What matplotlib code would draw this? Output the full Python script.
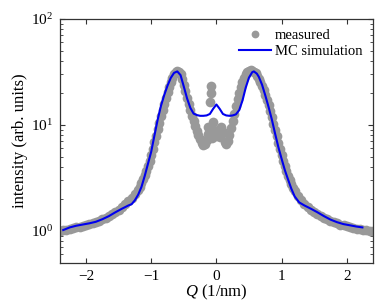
import matplotlib
matplotlib.use("Agg")
import matplotlib.pyplot as plt

plt.rcParams['font.family'] = ['Liberation Serif', 'DejaVu Serif']
plt.rcParams['mathtext.fontset'] = 'custom'
plt.rcParams['mathtext.rm'] = 'Liberation Serif'
plt.rcParams['mathtext.it'] = 'Liberation Serif:italic'
plt.rcParams['axes.unicode_minus'] = True

# measured data (Q in 1/nm, intensity)
q_meas = [-2.40, -2.35, -2.30, -2.25, -2.20, -2.15, -2.10, -2.05, -2.00, -1.95,
          -1.90, -1.85, -1.80, -1.75, -1.70, -1.65, -1.60, -1.55, -1.50, -1.45,
          -1.40, -1.35, -1.30, -1.25,
          -1.200, -1.175, -1.150, -1.125, -1.100, -1.075, -1.050, -1.025, -1.000, -0.975,
          -0.950, -0.925, -0.900, -0.875, -0.850, -0.825, -0.800, -0.775, -0.750, -0.725,
          -0.700, -0.675, -0.650, -0.625, -0.600, -0.575, -0.550, -0.525, -0.500, -0.475,
          -0.450, -0.425, -0.400, -0.375, -0.350, -0.325, -0.300, -0.275, -0.250, -0.225,
          -0.200, -0.175, -0.150,
          -0.130, -0.130, -0.110, -0.100, -0.077, -0.077, -0.070, -0.050, -0.030, 0.000,
          0.025, 0.050, 0.075, 0.100,
          0.125, 0.150, 0.175, 0.200, 0.225, 0.250, 0.275, 0.300, 0.325, 0.350,
          0.375, 0.400, 0.425, 0.450, 0.475, 0.500, 0.525, 0.550, 0.575, 0.600,
          0.625, 0.650, 0.675, 0.700, 0.725, 0.750, 0.775, 0.800, 0.825, 0.850,
          0.875, 0.900, 0.925, 0.950, 0.975, 1.000, 1.025, 1.050, 1.075, 1.100,
          1.125, 1.150, 1.175, 1.200,
          1.25, 1.30, 1.35, 1.40, 1.45, 1.50, 1.55, 1.60, 1.65, 1.70,
          1.75, 1.80, 1.85, 1.90, 1.95, 2.00, 2.05, 2.10, 2.15, 2.20,
          2.25, 2.30, 2.35, 2.40]
i_meas = [1.00, 1.01, 1.03, 1.04, 1.06, 1.08, 1.10, 1.12, 1.14, 1.16,
          1.19, 1.22, 1.25, 1.29, 1.33, 1.38, 1.44, 1.51, 1.58, 1.67,
          1.78, 1.90, 2.04, 2.22,
          2.45, 2.62, 2.82, 3.06, 3.35, 3.70, 4.10, 4.60, 5.20, 5.95,
          6.85, 7.90, 9.10, 10.5, 12.1, 13.9, 15.9, 18.0, 20.3, 22.8,
          25.3, 27.8, 30.0, 31.6, 32.3, 31.8, 30.0, 27.2, 24.0, 20.8,
          18.0, 15.6, 13.7, 12.1, 10.8, 9.70, 8.80, 8.00, 7.30, 6.80,
          6.50, 6.60, 7.20,
          8.2, 9.5, 8.0, 16.4, 20.0, 23.2, 7.5, 10.6, 8.9, 7.8,
          8.55, 7.7, 9.5, 8.55,
          6.9, 6.6, 7.0, 8.0, 9.3, 10.9, 12.8, 15.0, 17.4, 20.0,
          22.8, 25.5, 28.0, 30.0, 31.5, 32.4, 32.8, 32.6, 31.8, 30.6,
          29.0, 27.2, 25.3, 23.3, 21.3, 19.3, 17.3, 15.5, 13.5, 11.8,
          10.2, 8.9, 7.8, 6.8, 5.9, 5.2, 4.6, 4.1, 3.65, 3.30,
          3.00, 2.75, 2.55, 2.38,
          2.12, 1.94, 1.80, 1.69, 1.59, 1.51, 1.44, 1.38, 1.33, 1.29,
          1.25, 1.21, 1.18, 1.15, 1.13, 1.11, 1.09, 1.07, 1.05, 1.04,
          1.02, 1.01, 1.00, 0.99]

# MC simulation
q_sim = [-2.35, -2.25, -2.15, -2.05, -1.95, -1.85, -1.75, -1.65, -1.55, -1.45,
         -1.35, -1.30, -1.25, -1.20, -1.15, -1.10, -1.05, -1.00, -0.95, -0.90,
         -0.85, -0.80, -0.75, -0.70, -0.65, -0.60, -0.55, -0.50, -0.45, -0.40,
         -0.35, -0.30, -0.25, -0.20, -0.15, -0.10, -0.05, 0.00, 0.05, 0.10,
         0.15, 0.20, 0.25, 0.30, 0.35, 0.40, 0.45, 0.50, 0.55, 0.575,
         0.62, 0.65, 0.70, 0.75, 0.80, 0.85, 0.90, 0.95, 1.00, 1.05,
         1.10, 1.15, 1.20, 1.27, 1.35, 1.45, 1.55, 1.65, 1.75, 1.85,
         1.95, 2.05, 2.15, 2.24]
i_sim = [1.02, 1.08, 1.12, 1.15, 1.18, 1.22, 1.29, 1.38, 1.50, 1.62,
         1.74, 1.79, 1.95, 2.20, 2.60, 3.30, 4.30, 5.60, 8.00, 11.3,
         15.2, 19.2, 23.5, 27.8, 31.0, 32.0, 29.5, 23.0, 17.8, 14.5,
         12.8, 12.4, 12.2, 12.2, 12.3, 12.7, 14.2, 15.6, 14.2, 12.7,
         12.3, 12.2, 12.3, 12.6, 13.8, 17.0, 22.5, 28.0, 31.5, 32.0,
         30.5, 28.5, 24.0, 19.0, 14.8, 11.3, 8.3, 6.2, 4.8, 3.75,
         3.05, 2.50, 2.12, 1.86, 1.74, 1.62, 1.50, 1.38, 1.28, 1.21,
         1.16, 1.13, 1.10, 1.08]

x_ticks = [-2, -1, 0, 1, 2]

fig = plt.figure(figsize=(3.82, 3.06), dpi=100)
ax = fig.add_axes([0.157, 0.141, 0.819, 0.797])

ax.plot(q_meas, i_meas, linestyle='none', marker='o', ms=7,
        color='#999999', mec='none', label='measured', zorder=2)
ax.plot(q_sim, i_sim, color='#0000ee', lw=1.5, label='MC simulation', zorder=3)

ax.set_yscale('log')
ax.set_xlim(-2.4, 2.4)
ax.set_ylim(0.5, 100)
ax.set_xticks(x_ticks)

ax.set_xlabel(r'$Q$ (1/nm)', fontsize=12, labelpad=0)
ax.set_ylabel('intensity (arb. units)', fontsize=12, labelpad=2)

for s in ax.spines.values():
    s.set_color('#333333')
    s.set_linewidth(0.9)
ax.tick_params(which='both', direction='in', top=True, right=True,
               colors='#333333', labelcolor='black', labelsize=11)
ax.tick_params(which='major', length=3.5, width=0.8, pad=5)
ax.tick_params(which='minor', length=2, width=0.6)
ax.tick_params(axis='x', which='minor', bottom=False, top=False)

leg = ax.legend(loc='upper right', frameon=False, fontsize=10.5,
                handlelength=2.2, handletextpad=0.3, borderaxespad=0.3,
                labelspacing=0.15, numpoints=1, markerscale=0.8)

fig.savefig('out.png', dpi=100)
